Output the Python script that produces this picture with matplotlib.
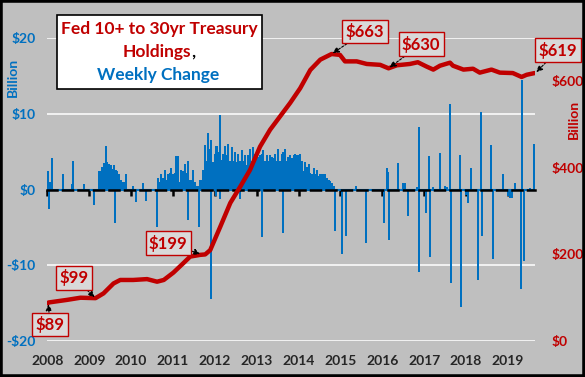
import numpy as np
import matplotlib.pyplot as plt
from matplotlib.patches import Rectangle
from matplotlib.text import Annotation

RED = '#C00000'
BLUE = '#0070C0'
GRAY = '#BFBFBF'

# Fed holdings of 10+ to 30yr Treasuries, $ billion
hold_year = [2008.00, 2008.03, 2008.47, 2008.79, 2009.15, 2009.34, 2009.58, 2009.74,
             2010.05, 2010.38, 2010.62, 2010.78, 2011.01, 2011.25, 2011.41, 2011.65,
             2011.77, 2011.89, 2012.13, 2012.37, 2012.61, 2012.84, 2013.08, 2013.32,
             2013.56, 2013.80, 2014.04, 2014.28, 2014.52, 2014.79, 2014.99, 2015.11,
             2015.39, 2015.63, 2015.95, 2016.15, 2016.35, 2016.66, 2016.85, 2017.06,
             2017.22, 2017.38, 2017.62, 2017.69, 2017.94, 2018.17, 2018.33, 2018.61,
             2018.81, 2019.12, 2019.33, 2019.45, 2019.64]
hold_val = [87, 89, 95, 100, 99, 110, 133, 141,
            141, 143, 137, 141, 158, 180, 195, 199,
            200, 210, 264, 319, 357, 395, 449, 488,
            519, 550, 584, 626, 650, 663, 661, 646,
            646, 640, 638, 630, 637, 640, 644, 634,
            627, 636, 643, 636, 627, 629, 620, 627,
            620, 619, 610, 615, 619]

# weekly change, $ billion - isolated weeks
chg_year = [2008.01, 2008.03, 2008.07, 2008.11, 2008.37, 2008.59, 2008.61, 2008.87,
            2009.11, 2009.62, 2010.05, 2010.12, 2010.28, 2010.36, 2010.62,
            2011.36, 2011.62, 2011.90, 2012.03, 2012.13, 2012.61, 2013.12, 2013.62,
            2014.87, 2015.03, 2015.13, 2015.37, 2015.61, 2016.04, 2016.11, 2016.13,
            2016.16, 2016.37, 2016.49, 2016.54, 2016.61, 2016.82, 2016.87, 2016.89,
            2017.05, 2017.11, 2017.12, 2017.14, 2017.22, 2017.38, 2017.50, 2017.54,
            2017.62, 2017.64, 2017.86, 2017.88, 2017.99, 2018.04, 2018.13, 2018.28,
            2018.35, 2018.38, 2018.61, 2018.64, 2018.88, 2019.00, 2019.05, 2019.11,
            2019.17, 2019.31, 2019.35, 2019.38, 2019.53, 2019.62]
chg_val = [2.4, -2.6, 1.0, 4.2, 2.0, 0.7, 3.7, 0.7,
           -2.1, -4.4, 0.4, -1.7, 0.9, -1.5, -5.0,
           -4.0, -4.9, -14.5, -0.8, -1.2, -1.2, -6.3, -5.8,
           -5.5, -8.5, -6.1, 0.4, -7.1, -4.4, 2.9, 2.3,
           -6.7, 3.5, 0.8, 0.8, -3.5, 0.3, 8.3, -10.9,
           -3.1, 4.4, 0.9, -8.9, 0.3, 4.8, 0.5, 0.3,
           11.3, -12.3, 4.6, -15.5, -0.7, -1.8, 2.9, -11.9,
           10.2, -6.2, 5.9, -9.2, 2.0, -0.8, -1.1, -1.1,
           0.9, -13.1, 14.5, -9.4, 0.2, 6.0]

# weekly change during the QE buying, read about every two weeks
qe_step = 0.04
qe1_start = 2009.23
qe1_chg = [2.5, 2.5, 3.0, 3.5, 5.7, 3.6, 3.4, 3.2, 2.7, 3.2, 2.6, 2.5, 2.1, 1.2, 1.0, 1.0, 2.0]
qe23_start = 2010.64
qe23_chg = [1.5, 1.0, 2.1, 1.5, 2.6, 1.2, 2.1, 2.2, 2.9, 2.1,
            2.2, 4.4, 4.4, 1.0, 2.6, 2.5, 3.4, 2.2, 3.7, 1.2,
            1.2, 2.6, 1.0, 0.5, 0.5, 1.2, 1.3, 2.6, 5.9, 3.8,
            7.4, 5.4, 6.6, 3.6, 4.7, 5.8, 4.9, 9.9, 3.9, 4.7,
            5.8, 4.5, 6.0, 3.8, 5.6, 3.8, 4.9, 3.6, 4.7, 3.7,
            5.2, 3.8, 4.5, 3.2, 4.5, 5.4, 3.8, 5.6, 4.7, 5.2,
            4.3, 4.5, 4.7, 5.2, 3.8, 4.5, 3.8, 4.5, 4.3, 4.1,
            4.7, 3.8, 5.4, 3.8, 4.7, 4.9, 5.4, 3.8, 4.3, 4.5,
            4.1, 4.5, 4.7, 4.5, 4.5, 4.7, 3.8, 2.5, 3.6, 3.0,
            3.4, 2.2, 2.0, 2.8, 2.0, 2.6, 1.8, 2.0, 2.1, 2.1,
            2.0, 1.5, 1.3, 1.1, 0.9, 0.5]

years = list(range(2008, 2020))
left_ticks = [-20, -10, 0, 10, 20]
right_ticks = [0, 200, 400, 600]

# callouts: label, point (year, value), box centre (year, value)
callouts = [('$89', 2008.02, 88, 2008.06, 38),
            ('$99', 2009.15, 99, 2008.64, 146),
            ('$199', 2011.68, 200, 2010.89, 226),
            ('$663', 2014.79, 663, 2015.59, 715),
            ('$630', 2016.15, 630, 2016.93, 686),
            ('$619', 2019.66, 619, 2020.20, 672)]

plt.rcParams['font.family'] = ['Lato', 'DejaVu Sans']
plt.rcParams['font.weight'] = 'bold'

fig = plt.figure(figsize=(5.85, 3.77), dpi=100, facecolor=GRAY)
ax = fig.add_axes([47/585, 36/377, 488/585, 303/377])
ax.set_facecolor(GRAY)

qe1_x = qe1_start + qe_step * np.arange(len(qe1_chg))
qe23_x = qe23_start + qe_step * np.arange(len(qe23_chg))
ax.bar(qe1_x, qe1_chg, width=0.048, color=BLUE, linewidth=0)
ax.bar(qe23_x, qe23_chg, width=0.048, color=BLUE, linewidth=0)
ax.bar(chg_year, chg_val, width=0.048, color=BLUE, linewidth=0)
ax.axhline(0, color=BLUE, lw=1.5, zorder=1.5)

ax.set_xlim(2007.99, 2019.65)
ax.set_ylim(-20, 20)
ax.set_yticks(left_ticks)
ax.set_yticklabels([('$%d' % v) if v >= 0 else ('-$%d' % -v) for v in left_ticks])
ax.tick_params(axis='y', length=0, labelcolor=BLUE, labelsize=10, pad=8)
ax.grid(axis='y', color='white', lw=1.1)
ax.set_axisbelow(True)
for s in ['top', 'left', 'right']:
    ax.spines[s].set_visible(False)
ax.spines['bottom'].set_position(('data', 0))
ax.spines['bottom'].set_linestyle((0, (4, 2.2)))
ax.spines['bottom'].set_linewidth(1.8)
ax.spines['bottom'].set_zorder(3)
ax.set_xticks(years)
ax.tick_params(axis='x', length=4, width=1.8, direction='out', color='black', labelbottom=False)

sec = ax.secondary_xaxis(0)
sec.set_xticks(years)
sec.set_xticklabels([str(y) for y in years])
sec.tick_params(length=0, labelsize=10, labelcolor='#262626', pad=10)
sec.spines['bottom'].set_visible(False)

ax2 = ax.twinx()
ax2.plot(hold_year, hold_val, color=RED, lw=3.2, solid_joinstyle='round', solid_capstyle='round')
ax2.set_ylim(0, 700)
ax2.set_yticks(right_ticks)
ax2.set_yticklabels(['$%d' % v for v in right_ticks])
ax2.tick_params(axis='y', length=0, labelcolor=RED, labelsize=10, pad=12)
for s in ax2.spines.values():
    s.set_visible(False)

for lab, x, y, tx, ty in callouts:
    ax2.annotate(lab, xy=(x, y), xytext=(tx, ty), color=RED, fontsize=12,
                 ha='center', va='center', annotation_clip=False,
                 bbox=dict(boxstyle='square,pad=0.2', fc='#D9D9D9', ec=RED, lw=1),
                 arrowprops=dict(arrowstyle='-|>', color='black', lw=0.8,
                                 ls=(0, (2, 1.5)), mutation_scale=9,
                                 shrinkA=0, shrinkB=1))

fig.text(13/585, 1 - 77/377, 'Billion', rotation=90, color=BLUE, fontsize=10,
         ha='center', va='center')
fig.text(574/585, 1 - 119/377, 'Billion', rotation=90, color=RED, fontsize=10,
         ha='center', va='center')

# title box
fig.add_artist(Rectangle((57/585, 1 - 89/377), 205/585, 74/377, transform=fig.transFigure,
                         fc='white', ec='black', lw=1.2))
fig.text(159.5/585, 1 - 29/377, 'Fed 10+ to 30yr Treasury', color=RED, fontsize=12.5,
         ha='center', va='center')
t2 = fig.text(156.5/585, 1 - 52/377, 'Holdings', color=RED, fontsize=12.5,
              ha='center', va='center')
fig.add_artist(Annotation(',', xy=(1, 0), xycoords=t2, color='black', fontsize=12.5,
                          ha='left', va='bottom'))
fig.text(158/585, 1 - 75/377, 'Weekly Change', color=BLUE, fontsize=12.5,
         ha='center', va='center')

fig.add_artist(Rectangle((0, 0), 1, 1, transform=fig.transFigure, fill=False,
                         ec='black', lw=4))

fig.savefig('out.png', dpi=100, facecolor=GRAY)
